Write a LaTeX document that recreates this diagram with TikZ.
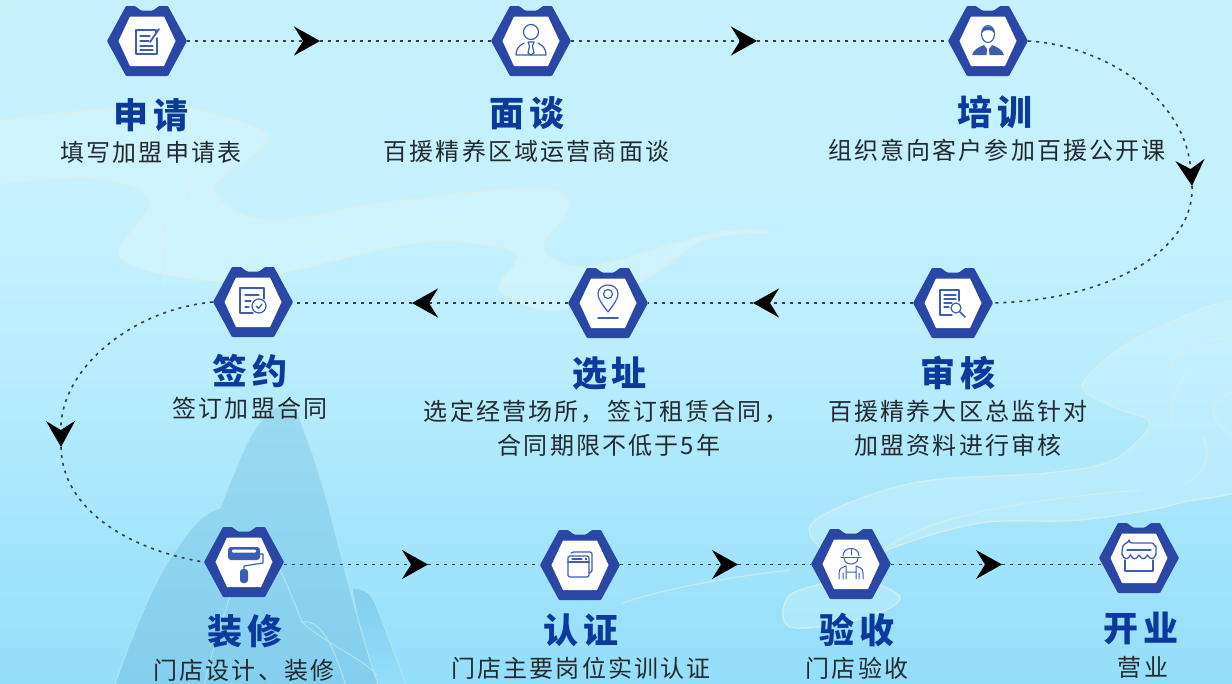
\documentclass[tikz,border=0pt]{standalone}
\usepackage{fontspec}
\usetikzlibrary{arrows.meta,calc}
\newfontfamily\cjktitle[LetterSpace=13]{Noto Sans CJK SC}
\newfontfamily\cjksub[LetterSpace=9]{Noto Sans CJK SC}
\definecolor{hexblue}{HTML}{2A47A6}
\definecolor{iconblue}{HTML}{3D5DB4}
\definecolor{titleblue}{HTML}{0B3A9C}
\definecolor{subtext}{HTML}{222A30}
\definecolor{linegray}{HTML}{3A3F44}
\definecolor{cloudfill}{HTML}{CFF4FE}
\definecolor{cloudedge}{HTML}{DCEFE6}
\definecolor{mountedge}{HTML}{AEE4EF}
\definecolor{bgtop}{HTML}{C5F1FF}
\definecolor{bgmid}{HTML}{BBEDFE}
\definecolor{bgbot}{HTML}{93DEFB}
\definecolor{mounttop}{HTML}{9DD9F1}
\definecolor{mountbot}{HTML}{82CFEE}
\tikzset{
  hexbox/.style={rectangle,minimum width=80pt,minimum height=70pt,inner sep=0pt},
  flow/.style={draw=linegray,line width=1.6pt,dash pattern=on 3pt off 5pt},
  flowtip/.style={flow,-{Stealth[length=26pt,width=29pt,inset=9pt,black]}},
  titletext/.style={inner sep=0pt,text=titleblue,font=\fontsize{35}{38}\cjktitle\bfseries},
  subtitle/.style={inner sep=0pt,align=center,text=subtext,font=\fontsize{24}{34}\cjksub},
  icon/.style={draw=iconblue,line width=1.2pt,line join=round,line cap=round,fill=none},
  swirl/.style={draw=cloudedge,line width=1.2pt,fill=none,line cap=round,draw opacity=.65},
}
\newcommand{\hexnode}[4]{%
  \node[hexbox] (#1) at (#2,#3) {};
  \begin{scope}[shift={(#2,#3)}]
    \fill[hexblue,rounded corners=0.8pt] (-40,0)--(-21,-35)--(-12,-35)--(-6,-30.5)--(6,-30.5)--(12,-35)--(21,-35)--(40,0)--(21,35)--(-21,35)--cycle;
    \fill[white] (-28.5,0)--(-17,-24.5)--(17,-24.5)--(28.5,0)--(17,25)--(-17,25)--cycle;
    #4
  \end{scope}}
\begin{document}
\begin{tikzpicture}[x=1pt,y=-1pt]
\useasboundingbox (0,0) rectangle (1232,683);
\begin{scope}
\clip (0,0) rectangle (1232,683);
\fill[bgtop] (0,0) rectangle (1232,201);
\shade[top color=bgtop,bottom color=bgmid] (0,200) rectangle (1232,351);
\shade[top color=bgmid,bottom color=bgbot] (0,350) rectangle (1232,683);
% clouds
\draw[draw=cloudedge,line width=1.3pt,fill=cloudfill,fill opacity=.8] plot[smooth cycle,tension=.55] coordinates {(-30,130)(76,112)(178,107)(268,137)(214,187)(265,220)(383,203)(536,188)(569,207)(543,247)(587,267)(714,233)(770,232)(704,240)(638,283)(556,310)(500,290)(515,253)(423,242)(280,273)(204,280)(120,257)(150,200)(92,178)(-30,180)};
\draw[swirl] (190,135) .. controls (192,155) and (190,180) .. (188,200);
\draw[swirl] (165,285) .. controls (165,262) and (160,230) .. (166,215);
\draw[swirl] (245,257) .. controls (320,245) and (420,205) .. (510,228);
\draw[swirl] (0,3) .. controls (8,8) and (14,14) .. (18,21);
\draw[draw=cloudedge,draw opacity=.8,line width=1.3pt,fill=cloudfill,fill opacity=.4] plot[smooth cycle,tension=.55] coordinates {(1262,305)(1147,333)(1083,383)(1113,407)(1150,423)(1113,460)(1047,473)(913,483)(812,523)(840,565)(900,597)(857,620)(790,627)(790,595)(850,575)(887,550)(980,523)(1080,520)(1180,503)(1262,470)};
\draw[swirl] (1170,365) .. controls (1180,350) and (1200,340) .. (1225,338);
\draw[swirl] (1190,370) .. controls (1175,385) and (1170,405) .. (1172,420);
\draw[swirl] (1203,437) .. controls (1212,455) and (1205,475) .. (1185,483);
\draw[swirl] (1232,392) .. controls (1205,405) and (1210,420) .. (1232,436);
\draw[swirl] (878,553) .. controls (910,530) and (960,505) .. (1140,490);
\draw[swirl] (623,603) .. controls (660,590) and (720,578) .. (790,570);
% mountains
\shadedraw[draw=mountedge,line width=1.1pt,top color=mountbot,bottom color=bgbot] (352,588) .. controls (372,588) and (374,600) .. (382,620) -- (408,690) -- (370,690) -- cycle;
\shadedraw[draw=mountedge,line width=1.1pt,top color=mounttop,bottom color=mountbot] (113,690) .. controls (130,640) and (150,590) .. (170,558) .. controls (190,530) and (198,515) .. (220,508) .. controls (232,480) and (245,440) .. (262,420) .. controls (272,406) and (288,400) .. (297,413) .. controls (310,445) and (325,490) .. (332,520) .. controls (345,570) and (362,640) .. (380,690) -- cycle;
\draw[mountedge,line width=1.1pt] (280,570) .. controls (290,590) and (297,610) .. (302,622) .. controls (322,618) and (335,650) .. (347,690);
\draw[mountedge,line width=.9pt] (302,622) .. controls (320,640) and (365,660) .. (377,675);
\draw[mountedge,line width=.9pt] (230,597) .. controls (220,625) and (210,660) .. (203,690);
\end{scope}

% --- hexagon nodes with icons
\hexnode{n1}{147}{41}{%
  \draw[icon] (9,-8) -- (9,-11) -- (-11,-11) -- (-11,13) -- (10,13) -- (10,-3);
  \draw[icon] (-7,-5) -- (3,-5) (-7,0) -- (2,0) (-7,5) -- (6,5) (-7,9) -- (6,9);
  \draw[icon,line width=1.8pt] (3,1) -- (12,-12);
}
\hexnode{n2}{531}{41}{%
  \draw[icon] (0,-9) circle (7.5);
  \draw[icon] (-7,2) .. controls (-13,5) and (-15,9) .. (-15,14) -- (15,14) .. controls (15,9) and (13,5) .. (7,2);
  \draw[icon] (-3,1) -- (3,1) -- (1.5,5) -- (3,12) -- (0,14) -- (-3,12) -- (-1.5,5) -- cycle;
}
\hexnode{n3}{988}{41}{%
  \draw[icon,line width=1.1pt] (0,-7) ellipse (6.5 and 8.5);
  \fill[iconblue] (-6.5,-8) .. controls (-6,-17) and (6,-17) .. (6.5,-8) .. controls (4,-12) and (-4,-12) .. (-6.5,-8);
  \fill[iconblue] (-16,14) .. controls (-14,8) and (-9,6) .. (-4,4) -- (-1,8) -- (-1.5,14) -- cycle;
  \fill[iconblue] (16,14) .. controls (14,8) and (9,6) .. (4,4) -- (1,8) -- (1.5,14) -- cycle;
}
\hexnode{n4}{953}{303}{%
  \draw[icon] (6,-2) -- (6,-13) -- (-13,-13) -- (-13,12) -- (-1,12);
  \draw[icon] (-9,-8) -- (3,-8) (-9,-4) -- (3,-4) (-9,0) -- (-1,0) (-9,4) -- (-4,4);
  \draw[icon] (3,5) circle (5);
  \draw[icon,line width=1.6pt] (7,9) -- (12,14);
}
\hexnode{n5}{608}{303}{%
  \draw[icon] (0,9) .. controls (-6,1) and (-10,-4) .. (-10,-9) .. controls (-10,-15) and (-5,-18) .. (0,-18) .. controls (5,-18) and (10,-15) .. (10,-9) .. controls (10,-4) and (6,1) .. (0,9) -- cycle;
  \draw[icon] (0,-9) circle (4.5);
  \draw[icon,line width=1.5pt] (-10,15) -- (10,15);
}
\hexnode{n6}{253}{302}{%
  \draw[icon] (11,-3) -- (11,-14) -- (-13,-14) -- (-13,11) -- (0,11);
  \draw[icon] (-8,-7) -- (6,-7) (-8,-1) -- (-2,-1) (-8,5) -- (-4,5);
  \draw[icon] (6,4) circle (7);
  \draw[icon] (3,4) -- (5.5,6.5) -- (9,2);
}
\hexnode{n7}{244}{562}{%
  \fill[iconblue,rounded corners=3pt] (-16,-15) rectangle (16,-2);
  \fill[white,rounded corners=1pt] (-12,-12.5) rectangle (12,-9.5);
  \draw[icon] (16,-8) -- (19,-8) -- (19,1) -- (0,4) -- (0,7);
  \fill[iconblue,rounded corners=3pt] (-4,7) rectangle (4,21);
}
\hexnode{n8}{580}{565}{%
  \draw[icon,rounded corners=1.5pt] (-9,-12) -- (-8,-13) -- (12,-13) -- (12,7) -- (9,8);
  \draw[icon,rounded corners=1.5pt] (-12,-9) rectangle (9,12);
  \draw[icon] (-12,-3) -- (9,-3);
  \draw[icon] (-8,-6) -- (2,-6);
  \fill[iconblue] (5,-7) rectangle (7,-5);
}
\hexnode{n9}{851}{564}{%
  \draw[icon,line width=1pt] (-8,-8) .. controls (-8,-18) and (8,-18) .. (8,-8);
  \draw[icon,line width=1pt] (-10,-7) -- (10,-7);
  \draw[icon,line width=1pt] (-7,-6) .. controls (-7,2) and (7,2) .. (7,-6);
  \draw[icon,line width=1pt] (0,-15) -- (0,-9);
  \draw[icon,line width=1pt] (-12,15) -- (-12,9) .. controls (-12,4) and (-8,3) .. (-5,2) -- (-5,15) (5,15) -- (5,2) .. controls (8,3) and (12,4) .. (12,9) -- (12,15) (-8,15) -- (-8,9) (8,15) -- (8,9) (-5,8) -- (5,8);
}
\hexnode{n10}{1139}{558}{%
  \draw[icon,line width=1.3pt,rounded corners=3pt] (-17,-3) -- (-17,-9) .. controls (-15,-15) and (-10,-15) .. (-10,-15) -- (10,-15) .. controls (15,-15) and (17,-9) .. (17,-9) -- (17,-3);
  \draw[icon,line width=1.3pt] (-17,-4) .. controls (-15,2) and (-11,2) .. (-8.5,-3) .. controls (-6,2) and (-3,2) .. (0,-3) .. controls (3,2) and (6,2) .. (8.5,-3) .. controls (11,2) and (15,2) .. (17,-4);
  \draw[icon,line width=1.3pt] (-14,2) -- (-14,13) -- (14,13) -- (14,2);
  \draw[icon,line width=1.3pt] (-12,-8) -- (12,-8);
}

% --- mid-line waypoints
\coordinate (m1) at (320,41);
\coordinate (m2) at (757,41);
\coordinate (m3) at (1192,186);
\coordinate (m4) at (753,303);
\coordinate (m5) at (412,303);
\coordinate (m6) at (61,447);
\coordinate (m7) at (428,564.5);
\coordinate (m8) at (738,564.5);
\coordinate (m9) at (1002,564.5);
\coordinate (n10in) at (1103,564.5);

% --- connectors
\draw[flowtip] (n1.east) -- (m1);
\draw[flow] (m1) -- (n2.west);
\draw[flowtip] (n2.east) -- (m2);
\draw[flow] (m2) -- (n3.west);
\draw[flowtip] (n3.east) .. controls (1100,45) and (1185,95) .. (m3);
\draw[flow] (m3) .. controls (1195,250) and (1110,300) .. (n4.east);
\draw[flowtip] (n4.west) -- (m4);
\draw[flow] (m4) -- (n5.east);
\draw[flowtip] (n5.west) -- (m5);
\draw[flow] (m5) -- (n6.east |- m5);
\draw[flowtip] (n6.west) .. controls (130,310) and (60,370) .. (m6);
\draw[flow] (m6) .. controls (62,510) and (130,550) .. (n7.west);
\draw[flowtip] (n7.east |- m7) -- (m7);
\draw[flow] (m7) -- (n8.west |- m7);
\draw[flowtip] (n8.east |- m8) -- (m8);
\draw[flow] (m8) -- (n9.west |- m8);
\draw[flowtip] (n9.east |- m9) -- (m9);
\draw[flow] (m9) -- (n10in);

% --- texts
\node[titletext] (t1) at (151,115) {申请};
\node[subtitle] (s1) at (151,152) {填写加盟申请表};
\node[titletext] (t2) at (527,113) {面谈};
\node[subtitle] (s2) at (526.5,151) {百援精养区域运营商面谈};
\node[titletext] (t3) at (995,112) {培训};
\node[subtitle] (s3) at (997,150) {组织意向客户参加百援公开课};
\node[titletext] (t4) at (958,373) {审核};
\node[subtitle] (s4) at (958,428) {百援精养大区总监针对\\加盟资料进行审核};
\node[titletext] (t5) at (609.5,374) {选址};
\node[subtitle] (s5) at (606,428) {选定经营场所，签订租赁合同，\\\hspace*{6pt}合同期限不低于5年};
\node[titletext] (t6) at (250,371) {签约};
\node[subtitle] (s6) at (250,408) {签订加盟合同};
\node[titletext] (t7) at (245,631) {装修};
\node[subtitle] (s7) at (244,670) {门店设计、装修};
\node[titletext] (t8) at (581,630) {认证};
\node[subtitle] (s8) at (581,668) {门店主要岗位实训认证};
\node[titletext] (t9) at (857,630) {验收};
\node[subtitle] (s9) at (857,668) {门店验收};
\node[titletext] (t10) at (1141,628) {开业};
\node[subtitle] (s10) at (1143,667) {营业};
\end{tikzpicture}
\end{document}
